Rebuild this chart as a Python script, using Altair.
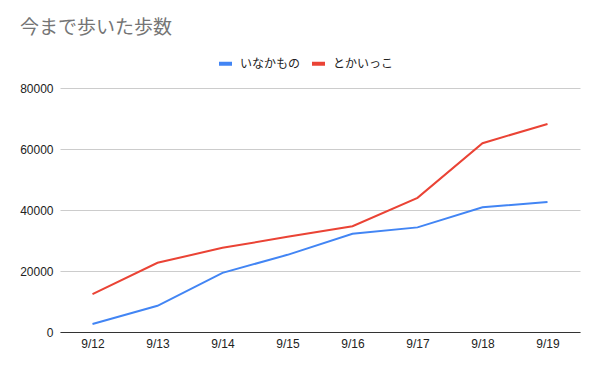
import altair as alt
import pandas as pd

dates = ["9/12", "9/13", "9/14", "9/15", "9/16", "9/17", "9/18", "9/19"]
inakamono = [2600, 8600, 19400, 25300, 32200, 34300, 40900, 42600]
tokaikko = [12400, 22700, 27600, 31200, 34700, 44000, 61900, 68200]
series = ["いなかもの", "とかいっこ"]
colors = ["#4285F4", "#EA4335"]
y_ticks = [0, 20000, 40000, 60000, 80000]

rows = []
for d, a, b in zip(dates, inakamono, tokaikko):
    rows.append({"date": d, "series": series[0], "steps": a})
    rows.append({"date": d, "series": series[1], "steps": b})
df = pd.DataFrame(rows)

font = "Arial, 'Liberation Sans', 'Noto Sans CJK JP', sans-serif"

chart = alt.Chart(df).mark_line(strokeWidth=2).encode(
    x=alt.X(
        "date:N",
        sort=dates,
        scale=alt.Scale(type="point", padding=0.5),
        axis=alt.Axis(
            title=None, labelAngle=0, ticks=False, grid=False,
            domainColor="#333333", domainWidth=1,
            labelColor="#222222", labelFontSize=12, labelPadding=6, labelFont=font,
        ),
    ),
    y=alt.Y(
        "steps:Q",
        scale=alt.Scale(domain=[0, 80000], nice=False),
        axis=alt.Axis(
            title=None, values=y_ticks, format="d", domain=False, ticks=False,
            gridColor="#cccccc", labelPadding=7, labelFontSize=12,
            labelColor="#222222", labelFont=font,
        ),
    ),
    color=alt.Color(
        "series:N",
        scale=alt.Scale(domain=series, range=colors),
        legend=alt.Legend(
            title=None, orient="none", direction="horizontal",
            legendX=157, legendY=-33, padding=0,
            symbolType="stroke", symbolStrokeWidth=4, symbolSize=169,
            labelFontSize=12, labelFont=font, labelColor="#222222",
            labelOffset=6, columnPadding=3,
        ),
    ),
).properties(
    width=520,
    height=244,
    title=alt.TitleParams(
        "今まで歩いた歩数", anchor="start", frame="group", dx=-40,
        fontSize=19, fontWeight="normal", color="#757575", font=font,
        baseline="alphabetic", offset=2,
    ),
    autosize=alt.AutoSizeParams(type="none"),
    padding={"left": 52, "top": 80, "right": 12, "bottom": 31},
).configure(background="white").configure_view(stroke=None)

chart.save("out.html", embed_options={"renderer": "svg", "actions": False})
